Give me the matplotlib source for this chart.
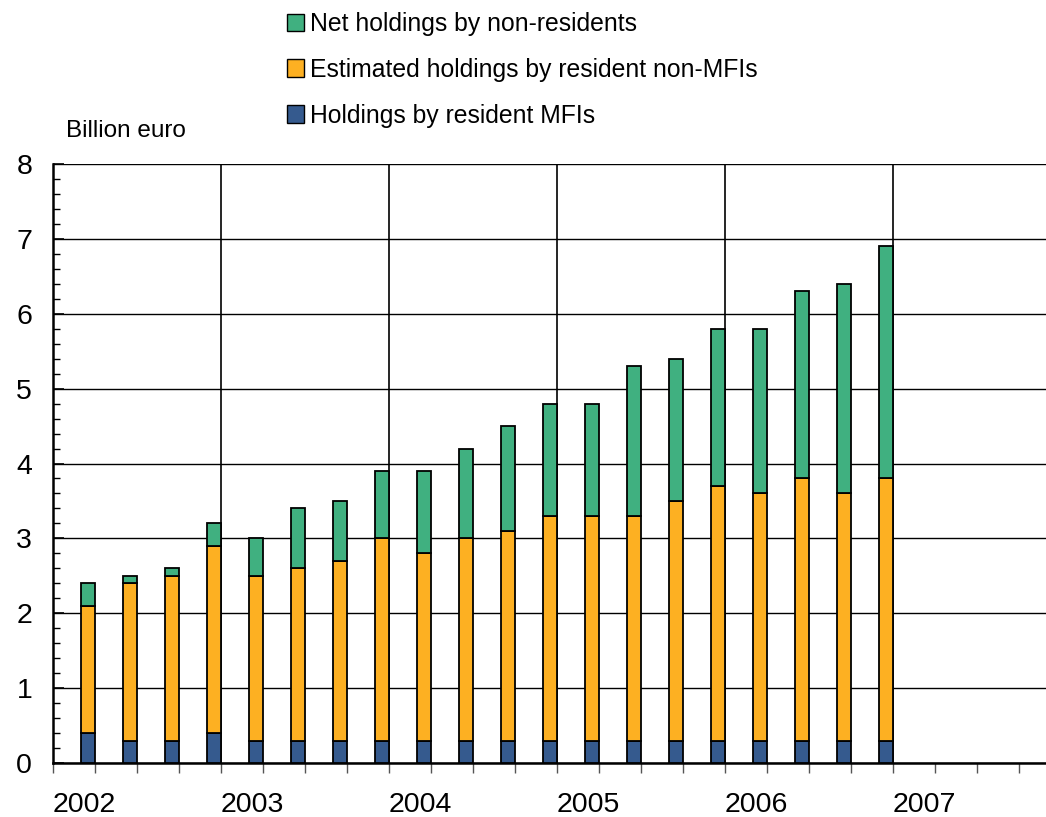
import numpy as np
import matplotlib
matplotlib.use('Agg')
import matplotlib.pyplot as plt
from matplotlib.patches import Patch

plt.rcParams['font.family'] = ['Liberation Sans', 'DejaVu Sans']

# quarterly data, 2002 Q1 - 2006 Q4, billion euro
quarters = ['2002Q1', '2002Q2', '2002Q3', '2002Q4',
            '2003Q1', '2003Q2', '2003Q3', '2003Q4',
            '2004Q1', '2004Q2', '2004Q3', '2004Q4',
            '2005Q1', '2005Q2', '2005Q3', '2005Q4',
            '2006Q1', '2006Q2', '2006Q3', '2006Q4']
mfi = [0.4, 0.3, 0.3, 0.4, 0.3, 0.3, 0.3, 0.3, 0.3, 0.3,
       0.3, 0.3, 0.3, 0.3, 0.3, 0.3, 0.3, 0.3, 0.3, 0.3]
non_mfi = [1.7, 2.1, 2.2, 2.5, 2.2, 2.3, 2.4, 2.7, 2.5, 2.7,
           2.8, 3.0, 3.0, 3.0, 3.2, 3.4, 3.3, 3.5, 3.3, 3.5]
non_res = [0.3, 0.1, 0.1, 0.3, 0.5, 0.8, 0.8, 0.9, 1.1, 1.2,
           1.4, 1.5, 1.5, 2.0, 1.9, 2.1, 2.2, 2.5, 2.8, 3.1]
years = ['2002', '2003', '2004', '2005', '2006', '2007']

c_green = '#40b080'
c_orange = '#fdb022'
c_blue = '#355a8e'

fig = plt.figure(figsize=(10.46, 8.17), dpi=100)
ax = fig.add_axes([53/1046, 54/817, 1 - 53/1046, 599/817])

w = 1/3
x = np.arange(len(quarters)) + 1 - w/2
mfi = np.array(mfi)
non_mfi = np.array(non_mfi)
non_res = np.array(non_res)
kw = dict(width=w, edgecolor='black', linewidth=1.3, zorder=3)
ax.bar(x, mfi, color=c_blue, **kw)
ax.bar(x, non_mfi, bottom=mfi, color=c_orange, **kw)
ax.bar(x, non_res, bottom=mfi + non_mfi, color=c_green, **kw)

ax.set_ylim(0, 8)
ax.set_xlim(0, (1046 - 53) / 42)
ax.set_yticks(range(0, 9))
ax.set_yticks(np.arange(0, 8.01, 0.2), minor=True)
ax.set_xticks(np.arange(0, 24, 4))
ax.set_xticklabels(years, ha='left')
ax.set_xticks(np.arange(0, 24, 1), minor=True)

ax.tick_params(axis='y', which='major', direction='in', length=8, width=1.2,
               labelsize=20.5, pad=15)
ax.tick_params(axis='y', which='minor', direction='in', length=5, width=1)
ax.tick_params(axis='x', which='both', direction='out', length=7, width=1,
               color='#555555', labelsize=20.5, pad=14)

ax.grid(axis='y', which='major', color='black', linewidth=1)
for xv in range(4, 24, 4):
    ax.axvline(xv, color='black', linewidth=1.2, zorder=1)

for s in ['top', 'right']:
    ax.spines[s].set_visible(False)
ax.spines['left'].set_linewidth(1.8)
ax.spines['bottom'].set_linewidth(1.8)

fig.text(66/1046, 1 - 137/817, 'Billion euro', fontsize=17.5, va='baseline')

handles = [Patch(facecolor=c_green, edgecolor='black'),
           Patch(facecolor=c_orange, edgecolor='black'),
           Patch(facecolor=c_blue, edgecolor='black')]
labels = ['Net holdings by non-residents',
          'Estimated holdings by resident non-MFIs',
          'Holdings by resident MFIs']
fig.legend(handles, labels, loc='upper left', bbox_to_anchor=(287/1046, 1 - 12/817),
           frameon=False, fontsize=17.8, handlelength=0.7, handleheight=0.7,
           handletextpad=0.25, labelspacing=0.88, borderpad=0, borderaxespad=0)

fig.savefig('out.png', dpi=100)
